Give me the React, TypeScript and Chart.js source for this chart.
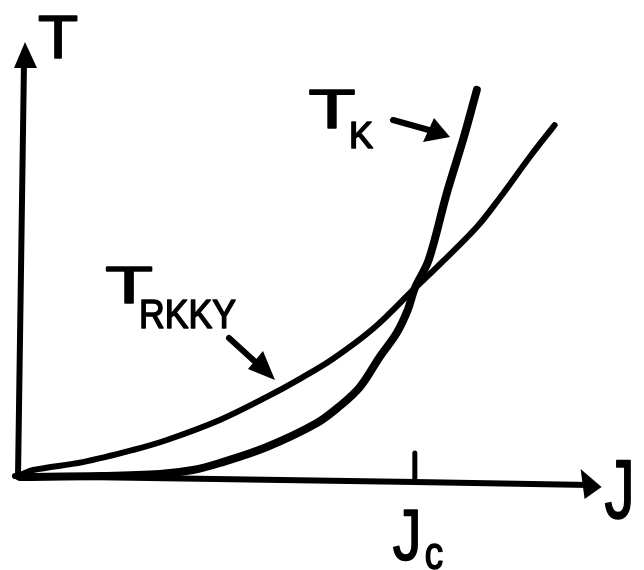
import { useEffect, useRef } from "react";
import { Chart, registerables } from "chart.js";

Chart.register(...registerables);

// Kondo temperature T_K(J): exponentially small at weak coupling, then steep
const kondoJ = [0, 0.203, 0.354, 0.438, 0.506, 0.625, 0.752, 0.81, 0.861, 0.911, 0.954, 0.982, 1.0, 1.035, 1.081, 1.122, 1.157];
const kondoT = [0, 0.005, 0.016, 0.037, 0.074, 0.159, 0.286, 0.376, 0.477, 0.636, 0.763, 0.885, 1.0, 1.149, 1.504, 1.785, 2.05];

// RKKY scale T_RKKY(J) ~ J^2
const rkkyJ = [0, 0.033, 0.159, 0.286, 0.372, 0.506, 0.625, 0.709, 0.792, 0.894, 1.0, 1.056, 1.157, 1.215, 1.291, 1.354];
const rkkyT = [0.01, 0.037, 0.079, 0.143, 0.196, 0.302, 0.424, 0.52, 0.625, 0.785, 1.0, 1.112, 1.324, 1.478, 1.695, 1.864];

// critical coupling where the two scales cross
const criticalJ = 1.0;
const axisEndJ = 1.473;
const axisEndT = 2.304;

const INK = "#000";
const FONT = '"Liberation Sans", Arial, sans-serif';

function glyphs(
  ctx: CanvasRenderingContext2D,
  text: string,
  x: number,
  y: number,
  size: number,
  sx: number,
  align: CanvasTextAlign
) {
  ctx.save();
  ctx.translate(x, y);
  ctx.scale(sx, 1);
  ctx.font = `${size}px ${FONT}`;
  ctx.textAlign = align;
  ctx.textBaseline = "alphabetic";
  ctx.fillStyle = INK;
  ctx.strokeStyle = INK;
  ctx.lineWidth = 1.6;
  ctx.lineJoin = "round";
  ctx.fillText(text, 0, 0);
  ctx.strokeText(text, 0, 0);
  ctx.restore();
}

function head(ctx: CanvasRenderingContext2D, tip: [number, number], a: [number, number], b: [number, number]) {
  ctx.beginPath();
  ctx.moveTo(tip[0], tip[1]);
  ctx.lineTo(a[0], a[1]);
  ctx.lineTo(b[0], b[1]);
  ctx.closePath();
  ctx.fill();
}

function stroke(ctx: CanvasRenderingContext2D, pts: [number, number][], w: number) {
  ctx.lineWidth = w;
  ctx.beginPath();
  ctx.moveTo(pts[0][0], pts[0][1]);
  for (let i = 1; i < pts.length; i++) ctx.lineTo(pts[i][0], pts[i][1]);
  ctx.stroke();
}

const sketchPlugin = {
  id: "sketch",
  beforeDraw(chart: Chart) {
    const { ctx, width, height } = chart;
    ctx.save();
    ctx.fillStyle = "#fff";
    ctx.fillRect(0, 0, width, height);
    ctx.restore();
  },
  beforeDatasetsDraw(chart: Chart) {
    const ctx = chart.ctx;
    const xs = chart.scales.x;
    const ys = chart.scales.y;
    const x0 = xs.getPixelForValue(0);
    const y0 = ys.getPixelForValue(0);
    const xEnd = xs.getPixelForValue(axisEndJ);
    const yEnd = ys.getPixelForValue(axisEndT);
    const xc = xs.getPixelForValue(criticalJ);

    ctx.save();
    ctx.strokeStyle = INK;
    ctx.fillStyle = INK;
    ctx.lineCap = "round";
    ctx.lineJoin = "round";

    // vertical axis with arrow
    stroke(ctx, [[x0 - 2, y0], [x0 + 4, yEnd + 20]], 6);
    head(ctx, [x0 + 5, yEnd], [x0 - 6, yEnd + 26], [x0 + 17, yEnd + 26]);

    // horizontal axis with arrow
    stroke(ctx, [[x0 - 5, y0 - 1], [xc, y0 + 5], [xEnd - 12, y0 + 8]], 6);
    head(ctx, [xEnd, y0 + 10], [xEnd - 21, y0 - 8], [xEnd - 17, y0 + 22]);

    // tick at J_c
    stroke(ctx, [[xc, y0 + 5], [xc, y0 - 24]], 5);
    ctx.restore();
  },
  afterDatasetsDraw(chart: Chart) {
    const ctx = chart.ctx;
    const xs = chart.scales.x;
    const ys = chart.scales.y;
    const x0 = xs.getPixelForValue(0);
    const y0 = ys.getPixelForValue(0);
    const xEnd = xs.getPixelForValue(axisEndJ);
    const yEnd = ys.getPixelForValue(axisEndT);
    const xc = xs.getPixelForValue(criticalJ);

    ctx.save();
    ctx.strokeStyle = INK;
    ctx.fillStyle = INK;
    ctx.lineCap = "round";
    ctx.lineJoin = "round";

    // axis labels
    glyphs(ctx, "T", x0 + 38, yEnd + 16, 62, 1.06, "center");
    glyphs(ctx, "J", xEnd + 3, y0 + 41, 84, 0.72, "left");
    glyphs(ctx, "J", xc - 22, y0 + 83, 72, 0.8, "left");
    glyphs(ctx, "c", xc + 10, y0 + 92, 46, 0.8, "left");

    // T_K label and its arrow
    glyphs(ctx, "T", 332, 128, 55, 1.4, "center");
    glyphs(ctx, "K", 349, 148, 36, 1.0, "left");
    stroke(ctx, [[393, 120], [436, 132]], 6);
    head(ctx, [450, 137], [434, 118], [423, 142]);

    // T_RKKY label and its arrow
    glyphs(ctx, "T", 129, 303, 52, 1.5, "center");
    glyphs(ctx, "RKKY", 139, 328, 41, 0.87, "left");
    stroke(ctx, [[229, 338], [262, 368]], 6);
    head(ctx, [275, 380], [263, 351], [248, 369]);

    ctx.restore();
  },
};

export default function App() {
  const ref = useRef<HTMLCanvasElement | null>(null);

  useEffect(() => {
    if (!ref.current) return;
    const line = {
      showLine: true,
      borderColor: INK,
      pointRadius: 0,
      pointHoverRadius: 0,
      tension: 0.35,
      borderCapStyle: "round" as const,
      borderJoinStyle: "round" as const,
      fill: false,
      clip: false as const,
    };
    const chart = new Chart(ref.current, {
      type: "scatter",
      data: {
        datasets: [
          {
            ...line,
            label: "T_K",
            data: kondoJ.map((x, i) => ({ x, y: kondoT[i] })),
            borderWidth: 8,
          },
          {
            ...line,
            label: "T_RKKY",
            data: rkkyJ.map((x, i) => ({ x, y: rkkyT[i] })),
            borderWidth: 6,
          },
        ],
      },
      options: {
        responsive: false,
        animation: false,
        layout: { padding: { left: 20, right: 12, top: 5, bottom: 93 } },
        scales: {
          x: { type: "linear", min: 0, max: 1.55, display: false },
          y: { type: "linear", min: 0, max: 2.5, display: false },
        },
        plugins: {
          legend: { display: false },
          tooltip: { enabled: false },
        },
        events: [],
      },
      plugins: [sketchPlugin],
    });
    return () => chart.destroy();
  }, []);

  return (
    <div style={{ position: "absolute", left: 0, top: 0, width: 644, height: 570 }}>
      <canvas ref={ref} width={644} height={570} />
    </div>
  );
}
